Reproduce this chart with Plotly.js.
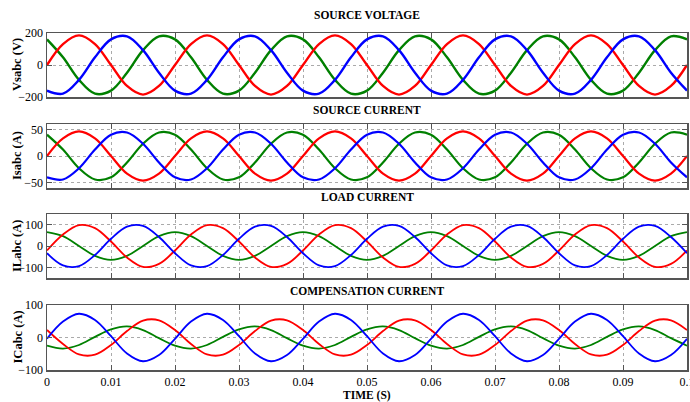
<!DOCTYPE html>
<html>
<head>
<meta charset="utf-8">
<script src="https://cdn.plot.ly/plotly-3.0.1.min.js"></script>
<style>html,body{margin:0;padding:0;background:#fff;}#chart{width:690px;height:402px;}</style>
</head>
<body>
<div id="chart"></div>
<script>
// Time samples (s)
const time = [0,0.0025,0.005,0.0075,0.01,0.0125,0.015,0.0175,0.02,0.0225,0.025,0.0275,0.03,0.0325,0.035,0.0375,0.04,0.0425,0.045,0.0475,0.05,0.0525,0.055,0.0575,0.06,0.0625,0.065,0.0675,0.07,0.0725,0.075,0.0775,0.08,0.0825,0.085,0.0875,0.09,0.0925,0.095,0.0975,0.1];

// Source voltage (V)
const vsRed   = [0,131,185,131,0,-131,-185,-131, 0,131,185,131,0,-131,-185,-131, 0,131,185,131,0,-131,-185,-131, 0,131,185,131,0,-131,-185,-131, 0,131,185,131,0,-131,-185,-131, 0];
const vsBlue  = [-160,-179,-93,48,160,179,93,-48, -160,-179,-93,48,160,179,93,-48, -160,-179,-93,48,160,179,93,-48, -160,-179,-93,48,160,179,93,-48, -160,-179,-93,48,160,179,93,-48, -160];
const vsGreen = [160,48,-93,-179,-160,-48,93,179, 160,48,-93,-179,-160,-48,93,179, 160,48,-93,-179,-160,-48,93,179, 160,48,-93,-179,-160,-48,93,179, 160,48,-93,-179,-160,-48,93,179, 160];

// Source current (A)
const isRed   = [0,33,46,33,0,-33,-46,-33, 0,33,46,33,0,-33,-46,-33, 0,33,46,33,0,-33,-46,-33, 0,33,46,33,0,-33,-46,-33, 0,33,46,33,0,-33,-46,-33, 0];
const isBlue  = [-40,-44,-23,12,40,44,23,-12, -40,-44,-23,12,40,44,23,-12, -40,-44,-23,12,40,44,23,-12, -40,-44,-23,12,40,44,23,-12, -40,-44,-23,12,40,44,23,-12, -40];
const isGreen = [40,12,-23,-44,-40,-12,23,44, 40,12,-23,-44,-40,-12,23,44, 40,12,-23,-44,-40,-12,23,44, 40,12,-23,-44,-40,-12,23,44, 40,12,-23,-44,-40,-12,23,44, 40];

// Load current (A)
const ilRed   = [-21,54,98,84,21,-54,-98,-84, -21,54,98,84,21,-54,-98,-84, -21,54,98,84,21,-54,-98,-84, -21,54,98,84,21,-54,-98,-84, -21,54,98,84,21,-54,-98,-84, -21];
const ilBlue  = [-34,-91,-94,-42,34,91,94,42, -34,-91,-94,-42,34,91,94,42, -34,-91,-94,-42,34,91,94,42, -34,-91,-94,-42,34,91,94,42, -34,-91,-94,-42,34,91,94,42, -34];
const ilGreen = [65,46,0,-46,-65,-46,0,46, 65,46,0,-46,-65,-46,0,46, 65,46,0,-46,-65,-46,0,46, 65,46,0,-46,-65,-46,0,46, 65,46,0,-46,-65,-46,0,46, 65];

// Compensation current (A)
const icRed   = [23,-20,-52,-53,-23,20,52,53, 23,-20,-52,-53,-23,20,52,53, 23,-20,-52,-53,-23,20,52,53, 23,-20,-52,-53,-23,20,52,53, 23,-20,-52,-53,-23,20,52,53, 23];
const icBlue  = [-4,49,73,54,4,-49,-73,-54, -4,49,73,54,4,-49,-73,-54, -4,49,73,54,4,-49,-73,-54, -4,49,73,54,4,-49,-73,-54, -4,49,73,54,4,-49,-73,-54, -4];
const icGreen = [-25,-34,-23,2,25,34,23,-2, -25,-34,-23,2,25,34,23,-2, -25,-34,-23,2,25,34,23,-2, -25,-34,-23,2,25,34,23,-2, -25,-34,-23,2,25,34,23,-2, -25];

const panelTitles = ["SOURCE VOLTAGE","SOURCE CURRENT","LOAD CURRENT","COMPENSATION CURRENT"];
const yLabels = ["Vsabc (V)","Isabc (A)","ILabc (A)","ICabc (A)"];
const yTicks = [[-200,0,200],[-50,0,50],[-100,0,100],[-100,0,100]];
const yRanges = [[-200,200],[-60,60],[-150,150],[-100,100]];
const xTicks = [0,0.01,0.02,0.03,0.04,0.05,0.06,0.07,0.08,0.09,0.1];
const xTickText = ["0","0.01","0.02","0.03","0.04","0.05","0.06","0.07","0.08","0.09","0.1"];
const xLabel = "TIME (S)";

const COLORS = {red:"#ff0000", green:"#008000", blue:"#0000ff"};
const panels = [
  [vsRed, vsGreen, vsBlue],
  [isRed, isGreen, isBlue],
  [ilRed, ilGreen, ilBlue],
  [icRed, icGreen, icBlue]
];
const widths = [2.4, 2.2, 1.8, 1.8];

// Panel geometry in pixels (top, bottom)
const W = 690, H = 402;
const pxX = [47, 687];
const pxY = [[33,97],[124,188],[214,278],[305,370]];
const titleY = [15, 110, 197, 291];

const traces = [];
panels.forEach((p, i) => {
  const ax = i === 0 ? "" : String(i + 1);
  const cols = [COLORS.red, COLORS.green, COLORS.blue];
  [1,0,2].forEach(k => {
    traces.push({
      x: time, y: p[k], type: "scatter", mode: "lines",
      line: {color: cols[k], width: widths[i], shape: "spline", smoothing: 1},
      xaxis: "x" + ax, yaxis: "y" + ax, showlegend: false, hoverinfo: "skip",
      cliponaxis: true
    });
  });
});

const tickFont = {family: "Liberation Serif, Times New Roman, serif", size: 12, color: "#000"};
const layout = {
  width: W, height: H,
  margin: {l: 0, r: 0, t: 0, b: 0},
  paper_bgcolor: "#fff", plot_bgcolor: "#fff",
  showlegend: false,
  annotations: []
};

pxY.forEach((py, i) => {
  const ax = i === 0 ? "" : String(i + 1);
  layout["xaxis" + ax] = {
    domain: [pxX[0] / W, pxX[1] / W],
    range: [0, 0.1],
    anchor: "y" + ax,
    tickmode: "array", tickvals: xTicks, ticktext: xTickText,
    showticklabels: i === 3,
    ticklabeloverflow: "allow",
    tickfont: tickFont,
    ticks: "inside", ticklen: 5, tickcolor: "#555", tickwidth: 1,
    showgrid: true, gridcolor: "#aaaaaa", griddash: "dot", gridwidth: 1,
    showline: true, linecolor: "#555", linewidth: 1.5, mirror: "ticks",
    zeroline: false, fixedrange: true
  };
  layout["yaxis" + ax] = {
    domain: [1 - py[1] / H, 1 - py[0] / H],
    range: yRanges[i],
    anchor: "x" + ax,
    tickmode: "array", tickvals: yTicks[i],
    tickfont: tickFont,
    ticks: "inside", ticklen: 5, tickcolor: "#555", tickwidth: 1,
    showgrid: true, gridcolor: "#aaaaaa", griddash: "dot", gridwidth: 1,
    showline: true, linecolor: "#555", linewidth: 1.5, mirror: "ticks",
    zeroline: false, fixedrange: true
  };
  layout.annotations.push({
    text: panelTitles[i], xref: "paper", yref: "paper",
    x: 367 / W, y: 1 - titleY[i] / H, xanchor: "center", yanchor: "middle",
    showarrow: false,
    font: {family: "Liberation Serif, Times New Roman, serif", size: 11.5, color: "#000", weight: "bold"}
  });
  layout.annotations.push({
    text: "<b>" + yLabels[i] + "</b>", xref: "paper", yref: "paper",
    x: 17 / W, y: 1 - (py[0] + py[1]) / 2 / H, xanchor: "center", yanchor: "middle",
    textangle: -90, showarrow: false,
    font: {family: "Liberation Serif, Times New Roman, serif", size: 12.5, color: "#000"}
  });
});

layout.annotations.push({
  text: "<b>" + xLabel + "</b>", xref: "paper", yref: "paper",
  x: 367 / W, y: 1 - 395 / H, xanchor: "center", yanchor: "middle",
  showarrow: false,
  font: {family: "Liberation Serif, Times New Roman, serif", size: 11.5, color: "#000"}
});

Plotly.newPlot("chart", traces, layout, {staticPlot: true, displayModeBar: false});
</script>
</body>
</html>
